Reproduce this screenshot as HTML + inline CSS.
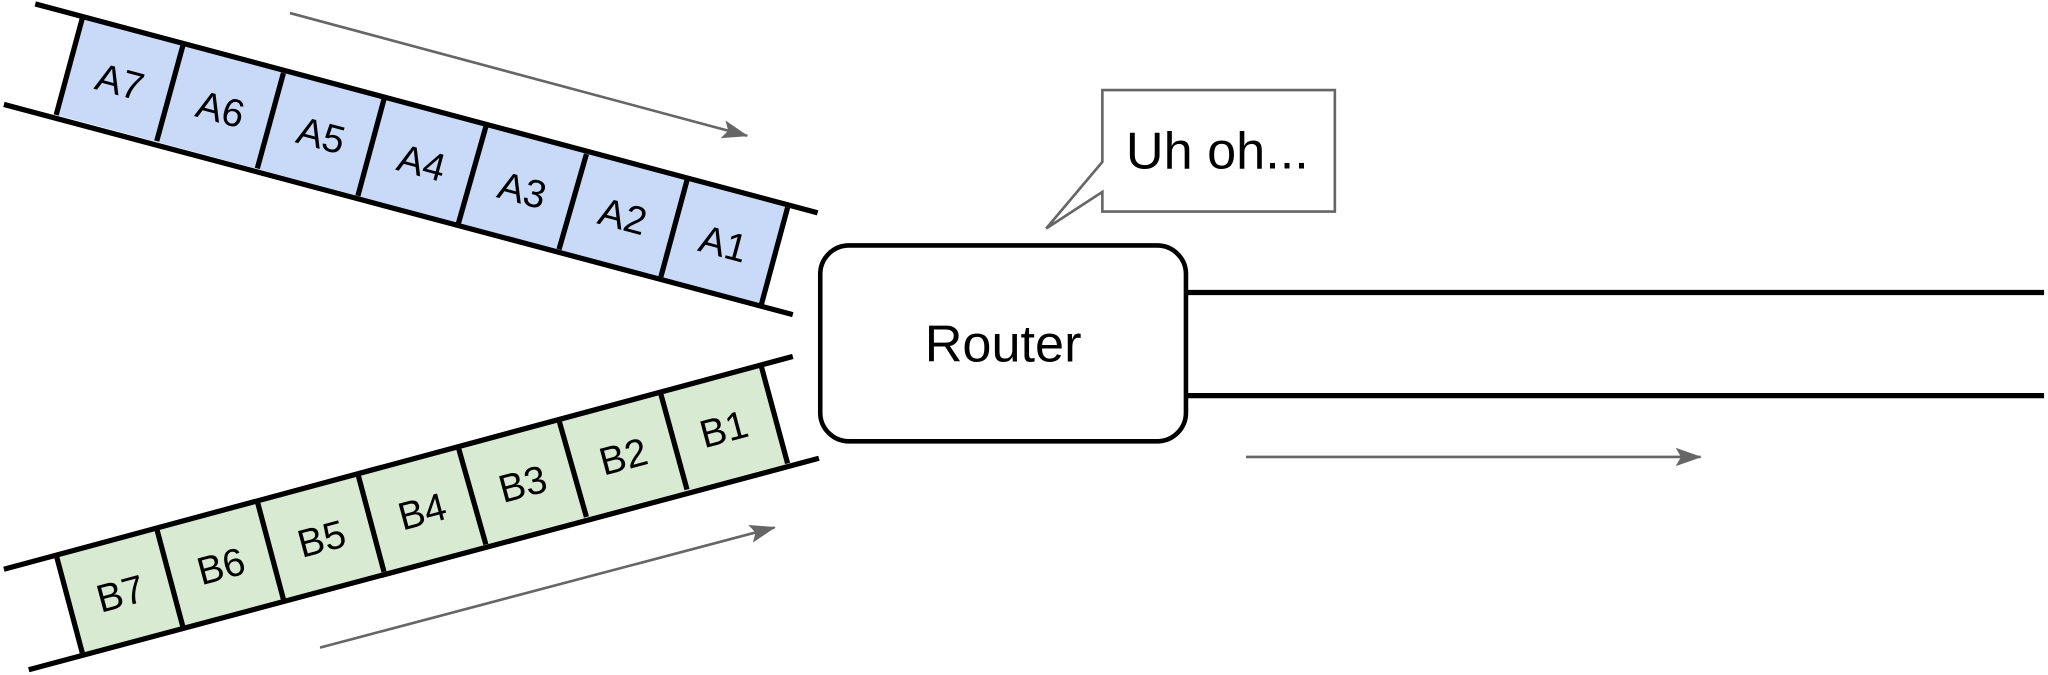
<!DOCTYPE html>
<html><head><style>html,body{margin:0;padding:0;background:#fff}svg{display:block}</style></head>
<body>
<svg width="2048" height="675" viewBox="0 0 1568 517" preserveAspectRatio="none" xmlns="http://www.w3.org/2000/svg" font-family="Liberation Sans, sans-serif">
<defs>
<marker id="ah" markerWidth="20" markerHeight="14" refX="19" refY="7" orient="auto" markerUnits="userSpaceOnUse" viewBox="0 0 20 14"><path d="M0,0 L20,7 L0,14 L4,7Z" fill="#666"/></marker>
</defs>
<polygon points="63,14 603,159 583,233 43,88" fill="#c9daf8"/>
<g stroke="#000" stroke-width="4" fill="none">
<line x1="27" y1="3" x2="626" y2="163"/>
<line x1="3" y1="80" x2="607" y2="241"/>
<line x1="63" y1="14" x2="43" y2="88"/>
<line x1="140" y1="35" x2="120" y2="108"/>
<line x1="217" y1="56" x2="197" y2="129"/>
<line x1="294" y1="76" x2="274" y2="150"/>
<line x1="372" y1="97" x2="351" y2="171"/>
<line x1="449" y1="118" x2="428" y2="191"/>
<line x1="526" y1="138" x2="506" y2="212"/>
<line x1="603" y1="159" x2="583" y2="233"/>
</g>
<g font-size="30" text-anchor="middle" fill="#000">
<text transform="translate(92,62) rotate(15)" dy="11">A7</text>
<text transform="translate(169,83) rotate(15)" dy="11">A6</text>
<text transform="translate(246,103) rotate(15)" dy="11">A5</text>
<text transform="translate(323,124) rotate(15)" dy="11">A4</text>
<text transform="translate(400,145) rotate(15)" dy="11">A3</text>
<text transform="translate(477,165) rotate(15)" dy="11">A2</text>
<text transform="translate(554,186) rotate(15)" dy="11">A1</text>
</g>
<polygon points="43,425 583,281 603,355 63,500" fill="#d9ead3"/>
<g stroke="#000" stroke-width="4" fill="none">
<line x1="3" y1="436" x2="607" y2="273"/>
<line x1="22" y1="513" x2="627" y2="351"/>
<line x1="43" y1="425" x2="63" y2="500"/>
<line x1="120" y1="405" x2="140" y2="480"/>
<line x1="197" y1="384" x2="217" y2="459"/>
<line x1="274" y1="363" x2="294" y2="438"/>
<line x1="351" y1="343" x2="372" y2="417"/>
<line x1="428" y1="322" x2="449" y2="396"/>
<line x1="506" y1="302" x2="526" y2="375"/>
<line x1="583" y1="281" x2="603" y2="355"/>
</g>
<g font-size="30" text-anchor="middle" fill="#000">
<text transform="translate(92,454) rotate(-15)" dy="11">B7</text>
<text transform="translate(169,433) rotate(-15)" dy="11">B6</text>
<text transform="translate(246,412) rotate(-15)" dy="11">B5</text>
<text transform="translate(323,391) rotate(-15)" dy="11">B4</text>
<text transform="translate(400,370) rotate(-15)" dy="11">B3</text>
<text transform="translate(477,349) rotate(-15)" dy="11">B2</text>
<text transform="translate(554,328) rotate(-15)" dy="11">B1</text>
</g>
<rect x="628" y="188" width="280" height="150" rx="22" fill="#fff" stroke="#000" stroke-width="3.5"/>
<text x="768" y="277" font-size="40" text-anchor="middle">Router</text>
<line x1="908" y1="224" x2="1565" y2="224" stroke="#000" stroke-width="4"/>
<line x1="908" y1="303" x2="1565" y2="303" stroke="#000" stroke-width="4"/>
<g stroke="#666" stroke-width="2" marker-end="url(#ah)">
<line x1="222" y1="10" x2="572" y2="104"/>
<line x1="954" y1="350" x2="1302" y2="350"/>
<line x1="245" y1="496" x2="593" y2="404"/>
</g>
<path d="M844,69 L1022,69 L1022,162 L844,162 L844,147 L801,175 L844,124 Z" fill="#fff" stroke="#666" stroke-width="2"/>
<text x="932" y="129" font-size="40" text-anchor="middle">Uh oh...</text>
</svg>
</body></html>
